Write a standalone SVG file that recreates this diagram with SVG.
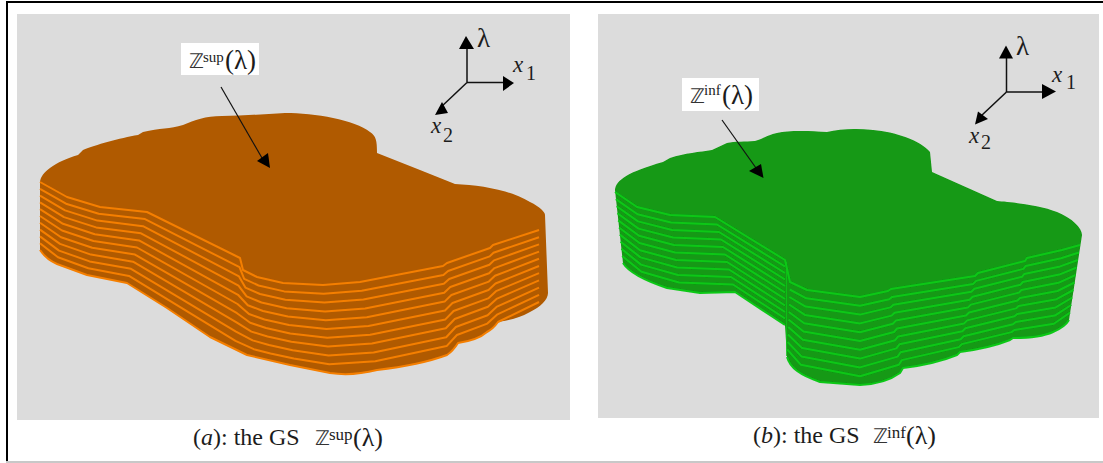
<svg xmlns="http://www.w3.org/2000/svg" width="1103" height="463" viewBox="0 0 1103 463">
<style>
text{font-family:"Liberation Serif","Times New Roman",serif;fill:#1c1c1c}
.cap{font-size:24px}
.lab{font-size:27px}
.capl{font-size:26px}
.sup{font-size:15px}
.csup{font-size:17px}
.zz{font-family:"DejaVu Sans",sans-serif;font-size:20px;fill:#333}
.ax{font-size:23px}
.lam{font-size:27px}
.i{font-style:italic}
.sub{font-size:20px}
.bg{fill:#dcdcdc}
.ora{fill:#b05a00}
.gre{fill:#129912}
.so{fill:none;stroke:#f57f00;stroke-width:2;stroke-linejoin:round}
.sg{fill:none;stroke:#0cc818;stroke-width:2;stroke-linejoin:round}
.arrow{fill:none;stroke:#111;stroke-width:1.2}
.ax-l{fill:none;stroke:#111;stroke-width:1.5}
.head{fill:#000}
</style>
<defs><filter id="soft" x="-5%" y="-5%" width="110%" height="110%"><feGaussianBlur stdDeviation="0.4"/></filter></defs>
<rect width="1103" height="463" fill="#fff"/>
<g id="frame">
<rect x="6" y="1" width="1097" height="2" fill="#000"/>
<rect x="6" y="1" width="2" height="462" fill="#000"/>
<rect x="6" y="461" width="1097" height="2" fill="#c8c8c8"/>
</g>
<rect class="bg" x="17" y="14" width="553" height="406"/>
<rect class="bg" x="598" y="14" width="501" height="404"/>

<g id="solid-a" filter="url(#soft)">
<path class="ora" d="M40,182 L40,250 C44,256 50,261 57,264 L87,275 L127,283 L167,308 L210,337 L247,355 L290,365 L330,373 C350,376 365,373 377,370 Q420,365 447,355 Q453,351 458,343 Q478,340 487,332 Q493,329 498,322 Q518,319 530,312 C540,307 548,300 548,293 L545,215 C545,212 540,207 530,202 C510,190 480,185 455,184 L420,170 L377,153 C377,140 376,136 370,132 C355,120 315,113 285,113 C265,114 240,116 222,116 C205,116 195,120 183,125 C170,129 160,128 143,132 L138,135 C120,138 95,145 83,150 L78,155 C55,162 41,172 40,182 Z"/>
<g id="layers-a" class="so">
<path d="M40,250 C44,256 50,261 57,264 L87,275 L127,283 L167,308 L210,337 L247,355 L290,365 L330,373 C350,376 365,373 377,370 Q420,365 447,355 Q453,351 458,343 Q478,340 487,332 Q493,329 498,322 L539,302"/>
<polyline points="40,243.2 58,257.3 88.3,268.2 129,275.9 235.5,340.8 253.8,349.2 270.5,353.5 293.8,358.6 329.3,364.2 375.3,361.2 446.6,346.1 456.9,335 487.3,323.6 497.5,314.3 539,294.8"/>
<polyline points="40,236.4 59,250.6 89.6,261.4 131,268.8 236,331.6 252.6,340.4 269,345 292.6,350.2 328.6,355.4 373.6,352.4 446.2,337.2 455.8,327 487.6,315.2 497,306.6 539,287.6"/>
<polyline points="40,229.6 60,243.9 90.9,254.6 133,261.7 236.5,322.4 251.4,331.6 267.5,336.5 291.4,341.8 327.9,346.6 371.9,343.6 445.8,328.3 454.7,319 487.9,306.8 496.5,298.9 539,280.4"/>
<polyline points="40,222.8 61,237.2 92.2,247.8 135,254.6 237,313.2 250.2,322.8 266,328 290.2,333.4 327.2,337.8 370.2,334.8 445.4,319.4 453.6,311 488.2,298.4 496,291.2 539,273.2"/>
<polyline points="40,216 62,230.5 93.5,241 137,247.5 237.5,304 249,314 264.5,319.5 289,325 326.5,329 368.5,326 445,310.5 452.5,303 488.5,290 495.5,283.5 539,266"/>
<polyline points="40,209.2 63,223.8 94.8,234.2 139,240.4 238,294.8 247.8,305.2 263,311 287.8,316.6 325.8,320.2 366.8,317.2 444.6,301.6 451.4,295 488.8,281.6 495,275.8 539,258.8"/>
<polyline points="40,202.4 64,217.1 96.1,227.4 141,233.3 238.5,285.6 246.6,296.4 261.5,302.5 286.6,308.2 325.1,311.4 365.1,308.4 444.2,292.7 450.3,287 489.1,273.2 494.5,268.1 539,251.6"/>
<polyline points="40,195.6 65,210.4 97.4,220.6 143,226.2 239,276.4 245.4,287.6 260,294 285.4,299.8 324.4,302.6 363.4,299.6 443.8,283.8 449.2,279 489.4,264.8 494,260.4 539,244.4"/>
<polyline points="40,188.8 66,203.7 98.7,213.8 145,219.1 239.5,267.2 244.2,278.8 258.5,285.5 284.2,291.4 323.7,293.8 361.7,290.8 443.4,274.9 448.1,271 489.7,256.4 493.5,252.7 539,237.2"/>
<polyline points="40,182 67,197 100,207 147,212 240,258 243,270 257,277 283,283 323,285 360,282 443,266 447,263 490,248 493,245 539,230"/>
</g>
</g>

<g id="solid-b" filter="url(#soft)">
<path class="gre" d="M615,190 L623,263 C628,271 640,279 667,288 L700,293 L735,292 L785,325 L787,357 C790,368 800,375 820,382 L860,385 Q885,384 900,373 L903,368 Q935,364 957,355 L960,352 Q990,348 1010,340 L1013,338 Q1040,338 1053,332 Q1065,327 1069,320 L1082,235 C1082,228 1072,218 1057,212 C1040,205 1010,202 997,201 L932,172 L930,152 C920,140 895,132 873,130 C855,128 840,129 827,132 C810,131 790,130 777,133 C770,134 765,138 755,141 C745,142 735,141 727,143 L712,150 C700,152 685,153 670,158 L663,162 C628,172 616,180 615,190 Z"/>
<g id="layers-b" class="sg">
<path d="M623,263 C628,271 640,279 667,288 L700,293 L735,292 L785,325 M787,357 C790,368 800,375 820,382 L860,385 Q885,384 900,373 L903,368 Q935,364 957,355 L960,352 Q990,348 1010,340 L1013,338 Q1040,338 1053,332 Q1065,327 1069,320"/>
<polyline points="622.2,255.9 641.5,271.8 679,282.5 733,284.5 785,318.5"/>
<polyline points="787.3,349.5 800.7,364.7 860,376.2 898.8,364.8 901.8,360.1 958.8,347.1 961.8,344.1 1011.5,332.1 1014.4,330 1053.9,323.8 1070.1,312.5"/>
<polyline points="621.4,248.8 641,264.6 678,275 731,277 785,312"/>
<polyline points="787.6,342 801.4,356.4 860,367.4 897.6,356.6 900.6,352.2 960.6,339.2 963.6,336.2 1013,324.2 1015.8,322 1054.8,315.6 1071.2,305"/>
<polyline points="620.6,241.7 640.5,257.4 677,267.5 729,269.5 785,305.5"/>
<polyline points="787.9,334.5 802.1,348.1 860,358.6 896.4,348.4 899.4,344.3 962.4,331.3 965.4,328.3 1014.5,316.3 1017.2,314 1055.7,307.4 1072.3,297.5"/>
<polyline points="619.8,234.6 640,250.2 676,260 727,262 785,299"/>
<polyline points="788.2,327 802.8,339.8 860,349.8 895.2,340.2 898.2,336.4 964.2,323.4 967.2,320.4 1016,308.4 1018.6,306 1056.6,299.2 1073.4,290"/>
<polyline points="619,227.5 639.5,243 675,252.5 725,254.5 785,292.5"/>
<polyline points="788.5,319.5 803.5,331.5 860,341 894,332 897,328.5 966,315.5 969,312.5 1017.5,300.5 1020,298 1057.5,291 1074.5,282.5"/>
<polyline points="618.2,220.4 639,235.8 674,245 723,247 785,286"/>
<polyline points="788.8,312 804.2,323.2 860,332.2 892.8,323.8 895.8,320.6 967.8,307.6 970.8,304.6 1019,292.6 1021.4,290 1058.4,282.8 1075.6,275"/>
<polyline points="617.4,213.3 638.5,228.6 673,237.5 721,239.5 785,279.5"/>
<polyline points="789.1,304.5 804.9,314.9 860,323.4 891.6,315.6 894.6,312.7 969.6,299.7 972.6,296.7 1020.5,284.7 1022.8,282 1059.3,274.6 1076.7,267.5"/>
<polyline points="616.6,206.2 638,221.4 672,230 719,232 785,273"/>
<polyline points="789.4,297 805.6,306.6 860,314.6 890.4,307.4 893.4,304.8 971.4,291.8 974.4,288.8 1022,276.8 1024.2,274 1060.2,266.4 1077.8,260"/>
<polyline points="615.8,199.1 637.5,214.2 671,222.5 717,224.5 785,266.5"/>
<polyline points="789.7,289.5 806.3,298.3 860,305.8 889.2,299.2 892.2,296.9 973.2,283.9 976.2,280.9 1023.5,268.9 1025.6,266 1061.1,258.2 1078.9,252.5"/>
<polyline points="615,192 637,207 670,215 715,217 785,260 790,282 807,290 860,297 888,291 891,289 975,276 978,273 1025,261 1027,258 1062,250 1080,245"/>
<line x1="786.5" y1="262" x2="786.5" y2="356" stroke-width="0.8"/>
</g>
</g>

<g id="connectors">
<line class="arrow" x1="221" y1="87" x2="262" y2="158"/>
<polygon class="head" points="270,168 257,161 268,153"/>
<line class="arrow" x1="722" y1="120" x2="756" y2="168"/>
<polygon class="head" points="763.5,178 749,171 761,164"/>
<line class="ax-l" x1="467" y1="82.5" x2="467" y2="49"/>
<polygon class="head" points="466,36 459,49 474,49"/>
<line class="ax-l" x1="467" y1="82.5" x2="503" y2="82.5"/>
<polygon class="head" points="514,83 503,76 503,91"/>
<line class="ax-l" x1="467" y1="82.5" x2="440" y2="108"/>
<polygon class="head" points="435,115 442,102 448,113"/>
<line class="ax-l" x1="1006.5" y1="92" x2="1006.5" y2="58"/>
<polygon class="head" points="1006,45.5 999,58.5 1013,58.5"/>
<line class="ax-l" x1="1006.5" y1="92" x2="1042" y2="92"/>
<polygon class="head" points="1056,91.5 1042,84 1042,99"/>
<line class="ax-l" x1="1006.5" y1="92" x2="981" y2="116"/>
<polygon class="head" points="975,124.5 978,111.5 988,119"/>
</g>

<g id="label-a">
<rect x="181" y="43" width="78" height="32" fill="#fff"/>
<text x="189" y="68"><tspan class="zz">ℤ</tspan><tspan class="sup" x="203" y="62">sup</tspan><tspan class="lab" x="225" y="69">(λ)</tspan></text>
</g>
<g id="label-b">
<rect x="682" y="78" width="77" height="33" fill="#fff"/>
<text x="690" y="103"><tspan class="zz">ℤ</tspan><tspan class="sup" x="704" y="95">inf</tspan><tspan class="lab" x="722" y="104">(λ)</tspan></text>
</g>
<g id="axes-a">
<text class="lam" x="477" y="47">λ</text>
<text class="ax i" x="513" y="72">x</text>
<text class="sub" x="526" y="80">1</text>
<text class="ax i" x="431" y="133">x</text>
<text class="sub" x="443" y="142">2</text>
</g>
<g id="axes-b">
<text class="lam" x="1016" y="55">λ</text>
<text class="ax i" x="1052" y="82">x</text>
<text class="sub" x="1066" y="89">1</text>
<text class="ax i" x="969" y="143">x</text>
<text class="sub" x="981" y="149">2</text>
</g>
<g id="caption-a">
<text class="cap" x="193" y="445">(<tspan class="i">a</tspan>): the GS<tspan class="zz" x="315" y="445">ℤ</tspan><tspan class="csup" x="329" y="440">sup</tspan><tspan class="capl" x="353" y="446">(λ)</tspan></text>
</g>
<g id="caption-b">
<text class="cap" x="753" y="443">(<tspan class="i">b</tspan>): the GS<tspan class="zz" x="873" y="443">ℤ</tspan><tspan class="csup" x="887" y="438">inf</tspan><tspan class="capl" x="906" y="444">(λ)</tspan></text>
</g>
</svg>
